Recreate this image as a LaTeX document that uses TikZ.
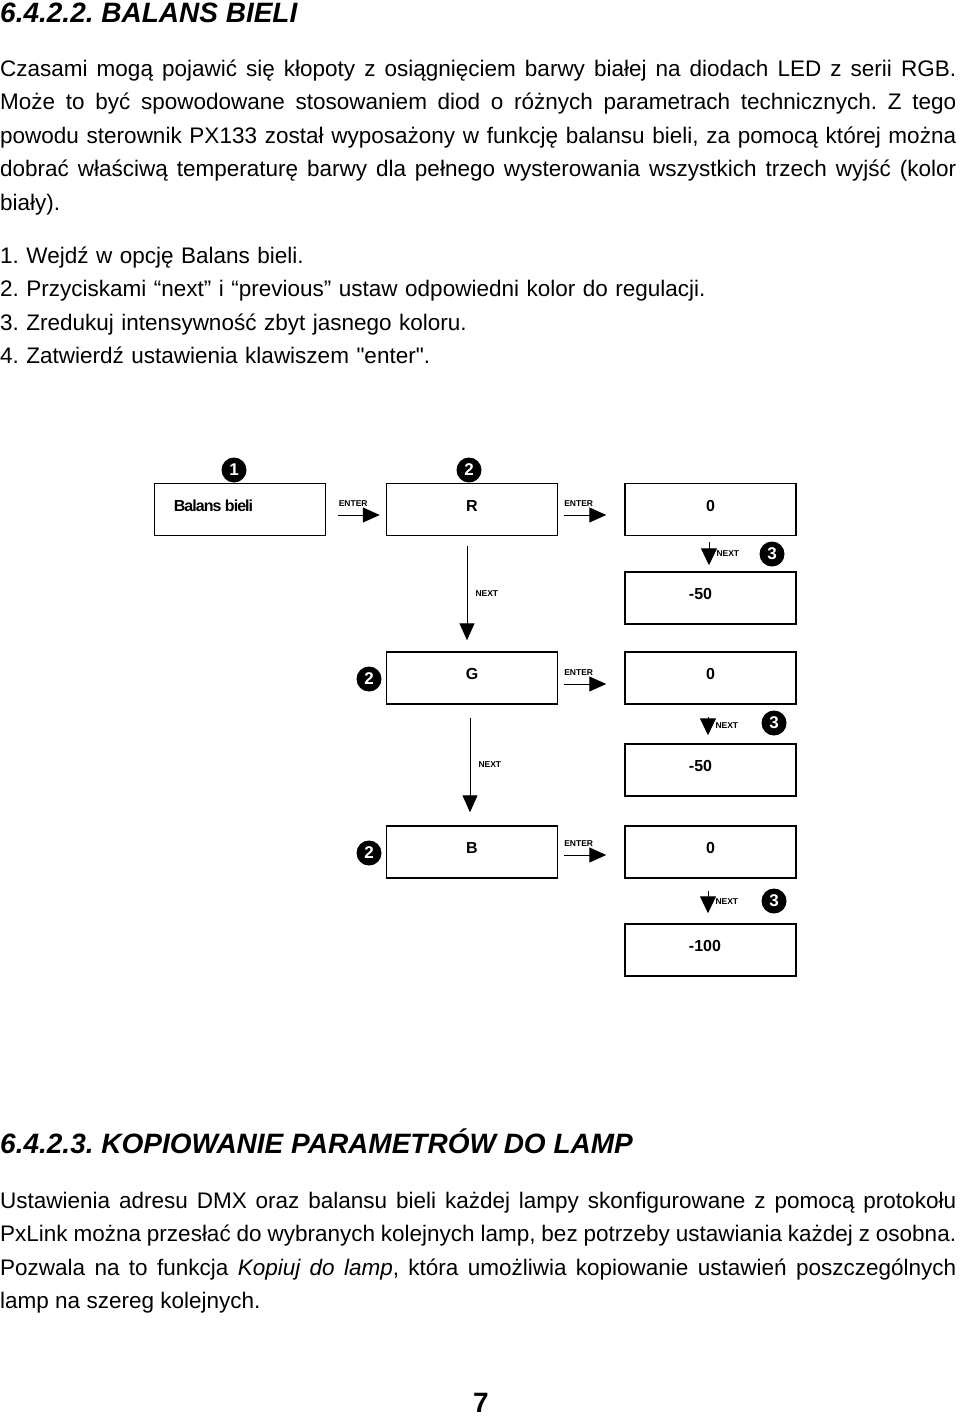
\documentclass[tikz,border=0pt]{standalone}
\usepackage{fontspec}
\setmainfont{Liberation Sans}[Ligatures=TeXOff]
\usetikzlibrary{arrows.meta}

\newcommand\bodyfont{\fontsize{22.5}{33.5}\selectfont\frenchspacing
  \spaceskip=.28em plus .6em minus .15em\relax\hyphenpenalty=10000\relax}

\tikzset{
  panel/.style={draw, line width=1.5pt, minimum width=171pt, minimum height=52pt, inner sep=0pt,
    text height=9.5pt, text depth=6.5pt, font=\fontsize{16}{18}\selectfont\bfseries},
  badge/.style={circle, fill=black, text=white, inner sep=0pt, minimum size=25pt,
    font=\fontsize{17}{17}\selectfont\bfseries},
  keylbl/.style={inner sep=0pt, font=\fontsize{8.5}{9}\selectfont\bfseries},
  flow/.style={-{Triangle[length=17pt,width=15pt]}, line width=1pt},
  nudge/.style={-{Triangle[length=17pt,width=16pt]}, line width=1pt},
  bodytext/.style={inner sep=0pt, anchor=base west, text width=956pt, align=justify, font=\bodyfont},
  steplist/.style={inner sep=0pt, anchor=base west, text width=956pt, align=left, font=\bodyfont},
  headline/.style={inner sep=0pt, anchor=base west,
    font=\fontsize{28}{30}\selectfont\bfseries\itshape\frenchspacing},
}

\begin{document}
\begin{tikzpicture}[x=1pt,y=-1pt]
        \useasboundingbox (0,0) rectangle (960,1416);

        % text above the diagram
        \node[headline] (head1) at (0,22) {6.4.2.2. BALANS BIELI};
        \node[bodytext] (intro) at (0,76) {Czasami mogą pojawić się kłopoty z osiągnięciem barwy białej na diodach LED z serii RGB.\linebreak
        Może to być spowodowane stosowaniem diod o różnych parametrach technicznych. Z tego\linebreak
        powodu sterownik PX133 został wyposażony w funkcję balansu bieli, za pomocą której można\linebreak
        dobrać właściwą temperaturę barwy dla pełnego wysterowania wszystkich trzech wyjść (kolor\linebreak
        biały).};
        \node[steplist] (steps) at (0,263) {1. Wejdź w opcję Balans bieli.\\
        2. Przyciskami “next” i “previous” ustaw odpowiedni kolor do regulacji.\\
        3. Zredukuj intensywność zbyt jasnego koloru.\\
        4. Zatwierdź ustawienia klawiszem "enter".};

        % panels
        \node[panel] (balans) at (240,509.5) {{\addfontfeature{LetterSpace=-6}Balans bieli}\hspace*{53pt}};
        \node[panel] (red) at (472,509.5) {R};
        \node[panel] (red0) at (710.5,509.5) {0};
        \node[panel] (red50) at (710.5,598) {-50\hspace*{20pt}};
        \node[panel] (green) at (472,678) {G};
        \node[panel] (green0) at (710.5,678) {0};
        \node[panel] (green50) at (710.5,770) {-50\hspace*{20pt}};
        \node[panel] (blue) at (472,852) {B};
        \node[panel] (blue0) at (710.5,852) {0};
        \node[panel] (blue100) at (710.5,950) {-100\hspace*{11pt}};

        \node[badge] (step1) at (234,470) {1};
        \node[badge] (step2r) at (469,470) {2};
        \node[badge] (step3r) at (772,554) {3};
        \node[badge] (step2g) at (369,679) {2};
        \node[badge] (step3g) at (774,723) {3};
        \node[badge] (step2b) at (369,853) {2};
        \node[badge] (step3b) at (774,901) {3};

        % ENTER
        \draw[flow] ([shift={(12,5.5)}]balans.east) -- node[keylbl, pos=0, anchor=south west, yshift=8pt] (enter1) {ENTER} ([shift={(-6,5.5)}]red.west);
        \draw[flow] ([shift={(5.5,5.5)}]red.east) -- node[keylbl, pos=0, anchor=south west, yshift=8pt] (enter2) {ENTER} ([shift={(-18,5.5)}]red0.west);
        \draw[flow] ([shift={(5.5,6)}]green.east) -- node[keylbl, pos=0, anchor=south west, yshift=8pt] (enter3) {ENTER} ([shift={(-18,6)}]green0.west);
        \draw[flow] ([shift={(5.5,3)}]blue.east) -- node[keylbl, pos=0, anchor=south west, yshift=8pt] (enter4) {ENTER} ([shift={(-18,3)}]blue0.west);

        % NEXT
        \draw[flow] ([shift={(-5,10)}]red.south) -- node[keylbl, right=8pt] (next1) {NEXT} ([shift={(-5,-11)}]green.north);
        \draw[flow] ([shift={(-2,13)}]green.south) -- node[keylbl, right=8pt] (next2) {NEXT} ([shift={(-2,-13)}]blue.north);
        \draw[nudge] ([shift={(-1.5,6)}]red0.south) -- node[keylbl, right=7pt] (next3) {NEXT} ([shift={(-1.5,-6)}]red50.north);
        \draw[nudge] ([shift={(-2.5,12)}]green0.south) -- node[keylbl, right=7pt] (next4) {NEXT} ([shift={(-2.5,-8)}]green50.north);
        \draw[nudge] ([shift={(-2.5,12)}]blue0.south) -- node[keylbl, right=7pt] (next5) {NEXT} ([shift={(-2.5,-10)}]blue100.north);

        % text below the diagram
        \node[headline] (head2) at (0,1153) {6.4.2.3. KOPIOWANIE PARAMETRÓW DO LAMP};
        \node[bodytext] (copytext) at (0,1208) {Ustawienia adresu DMX oraz balansu bieli każdej lampy skonfigurowane z pomocą protokołu\linebreak
        PxLink można przesłać do wybranych kolejnych lamp, bez potrzeby ustawiania każdej z osobna.\linebreak
        Pozwala na to funkcja \textit{Kopiuj do lamp}, która umożliwia kopiowanie ustawień poszczególnych\linebreak
        lamp na szereg kolejnych.};
        \node[inner sep=0pt, anchor=base, font=\fontsize{28}{30}\selectfont\bfseries] (pagenum) at (481,1412) {7};

    \end{tikzpicture}
\end{document}
